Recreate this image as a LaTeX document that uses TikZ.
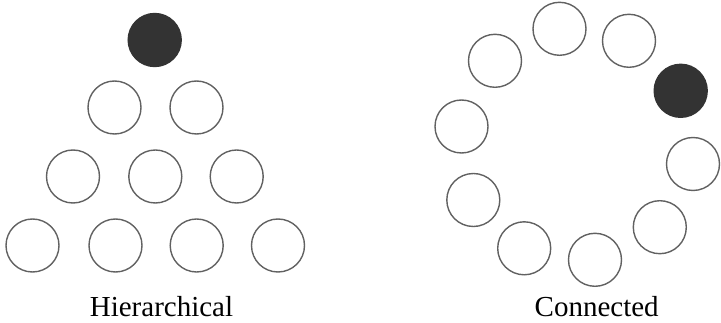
\documentclass[tikz,border=0pt]{standalone}
\usepackage{fontspec}
\setmainfont{Liberation Serif}
\begin{document}
\begin{tikzpicture}[x=1pt,y=-1pt,
  member/.style={circle,draw=black!62,line width=1.4pt,minimum size=53pt,inner sep=0pt},
  leader/.style={circle,fill=black!80,draw=black!80,line width=1.4pt,minimum size=53pt,inner sep=0pt},
  caption/.style={anchor=base,font=\fontsize{29}{32}\selectfont,inner sep=0pt}]
\useasboundingbox (0,0) rectangle (721,323);
% hierarchical arrangement
\node[leader] (h0) at (154.7,40) {};
\node[member] (h1) at (114.5,107.5) {};
\node[member] (h2) at (196.5,107.5) {};
\node[member] (h3) at (73,176.5) {};
\node[member] (h4) at (155.3,176.5) {};
\node[member] (h5) at (236.7,176.5) {};
\node[member] (h6) at (32.5,245.5) {};
\node[member] (h7) at (115.5,245.5) {};
\node[member] (h8) at (196.7,245.5) {};
\node[member] (h9) at (278,245.5) {};
\node[caption] (hl) at (161.5,316.5) {Hierarchical};
% connected ring
\node[member] (c1) at (559.5,28.8) {};
\node[member] (c2) at (629,40.8) {};
\node[leader] (c3) at (680.7,90.8) {};
\node[member] (c4) at (693,164) {};
\node[member] (c5) at (659.8,227.2) {};
\node[member] (c6) at (595,259.8) {};
\node[member] (c7) at (524.2,248.3) {};
\node[member] (c8) at (473.3,200) {};
\node[member] (c9) at (461.5,126.5) {};
\node[member] (c10) at (495,60.8) {};
\node[caption] (cl) at (596.7,316.5) {Connected};
\end{tikzpicture}
\end{document}
